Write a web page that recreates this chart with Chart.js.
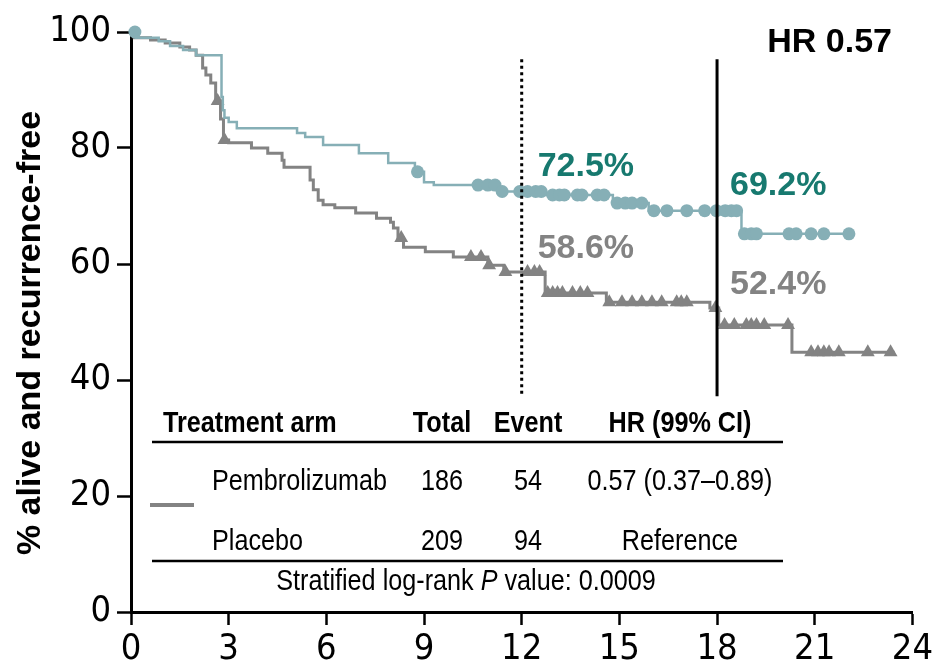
<!DOCTYPE html>
<html>
<head>
<meta charset="utf-8">
<script src="https://cdn.jsdelivr.net/npm/chart.js@4/dist/chart.umd.min.js"></script>
<style>
  html, body { margin: 0; padding: 0; background: #fff; }
  #wrap { width: 936px; height: 664px; }
</style>
</head>
<body>
<div id="wrap"><canvas id="km" width="936" height="664"></canvas></div>
<script>
// Axis ticks
const monthTicks = [0, 3, 6, 9, 12, 15, 18, 21, 24];
const pctTicks = [0, 20, 40, 60, 80, 100];

// Kaplan-Meier estimates: time (months) at which each step starts, and the % after the step
const pembroTimes = [0, 0.15, 0.85, 1.2, 1.6, 2.0, 2.78, 2.82, 2.87, 3.0, 3.25, 5.1, 5.35, 5.9, 7.0, 7.9, 8.72, 9.0, 9.3, 11.3, 12.65, 14.8, 15.9, 18.75];
const pembroSurv  = [100, 99.0, 98.4, 97.6, 96.9, 96.0, 88.8, 86.5, 85.2, 84.5, 83.4, 82.6, 81.9, 80.5, 79.1, 77.4, 75.9, 74.1, 73.6, 72.5, 71.9, 70.5, 69.2, 65.2];
const pembroEnd = 22.05;
const pembroCensor = [0.12, 8.8, 10.66, 10.96, 11.18, 11.4, 11.94, 12.18, 12.43, 12.6, 12.95, 13.16, 13.31, 13.71, 13.85, 14.32, 14.53, 14.93, 15.18, 15.39, 15.69, 16.06, 16.46, 17.07, 17.62, 17.98, 18.25, 18.44, 18.6, 18.84, 19.05, 19.21, 20.21, 20.43, 20.89, 21.28, 22.05];

const placeboTimes = [0, 0.1, 0.6, 1.05, 1.5, 1.8, 2.0, 2.2, 2.3, 2.45, 2.6, 2.75, 2.84, 3.0, 3.7, 4.2, 4.64, 4.7, 5.5, 5.6, 5.75, 5.9, 6.26, 6.9, 7.54, 7.97, 8.06, 8.2, 8.37, 9.04, 9.9, 10.96, 11.45, 12.72, 14.6, 17.78, 18.05, 20.3];
const placeboSurv  = [100, 99.0, 98.6, 98.1, 97.4, 96.9, 96.0, 93.8, 92.6, 91.2, 88.1, 85.0, 81.4, 80.9, 80.0, 79.1, 77.9, 76.7, 74.5, 72.8, 71.0, 70.2, 69.7, 68.8, 67.9, 67.2, 66.2, 64.5, 62.9, 62.1, 61.2, 59.8, 58.6, 55.0, 53.4, 52.4, 49.5, 44.8];
const placeboEnd = 23.45;
const placeboCensor = [2.66, 2.87, 8.3, 10.44, 10.75, 11.0, 11.5, 12.18, 12.39, 12.55, 12.8, 12.95, 13.1, 13.25, 13.56, 13.8, 14.02, 14.69, 15.08, 15.39, 15.69, 16.0, 16.3, 16.76, 16.9, 17.07, 17.95, 18.23, 18.53, 18.9, 19.05, 19.21, 19.45, 20.18, 20.89, 21.1, 21.28, 21.44, 21.74, 22.63, 23.33];

// Landmark estimates
const landmarkMonths = [12, 18];
const landmarkPembro = [72.5, 69.2];
const landmarkPlacebo = [58.6, 52.4];

// Summary table
const tableHeader = ['Treatment arm', 'Total', 'Event', 'HR (99% CI)'];
const armNames = ['Pembrolizumab', 'Placebo'];
const armTotals = [186, 209];
const armEvents = [54, 94];
const armHR = ['0.57 (0.37\u20130.89)', 'Reference'];
const hrLabel = 'HR 0.57';
const yTitle = '% alive and recurrence-free';

const TEAL = '#86afb6';
const TEAL_TEXT = '#17796f';
const GREY = '#838383';
const SANS = '"Liberation Sans", Arial, sans-serif';
const TICKS = '"DejaVu Sans Condensed", "Liberation Sans", sans-serif';
const CONDENSE = 0.84;   // horizontal squeeze for the table's narrow lettering

function survAt(times, surv, t) {
  let v = surv[0];
  for (let i = 0; i < times.length; i++) { if (times[i] <= t) v = surv[i]; }
  return v;
}
function curvePoints(times, surv, end) {
  const pts = times.map((t, i) => ({ x: t, y: surv[i] }));
  pts.push({ x: end, y: surv[surv.length - 1] });
  return pts;
}
function censorPoints(times, surv, marks) {
  return marks.map(t => ({ x: t, y: survAt(times, surv, t) }));
}

// narrow text: Liberation Sans squeezed horizontally
function narrowText(ctx, text, x, y, font, align) {
  ctx.save();
  ctx.font = font;
  const w = ctx.measureText(text).width * CONDENSE;
  let left = x;
  if (align === 'center') left = x - w / 2;
  else if (align === 'right') left = x - w;
  ctx.translate(left, y);
  ctx.scale(CONDENSE, 1);
  ctx.textAlign = 'left';
  ctx.fillText(text, 0, 0);
  ctx.restore();
  return w;
}

const overlay = {
  id: 'overlay',
  afterDraw(chart) {
    const ctx = chart.ctx;
    const xs = chart.scales.x, ys = chart.scales.y;
    ctx.save();

    // landmark reference lines
    ctx.strokeStyle = '#000';
    ctx.lineWidth = 3;
    landmarkMonths.forEach((m, i) => {
      const x = xs.getPixelForValue(m);
      ctx.setLineDash(i === 0 ? [3, 3.5] : []);
      ctx.beginPath();
      ctx.moveTo(x, ys.getPixelForValue(95.3));
      ctx.lineTo(x, ys.getPixelForValue(37.2));
      ctx.stroke();
    });
    ctx.setLineDash([]);

    // landmark percentages
    ctx.font = 'bold 34px ' + SANS;
    ctx.textAlign = 'left';
    ctx.textBaseline = 'alphabetic';
    landmarkMonths.forEach((m, i) => {
      const x = xs.getPixelForValue(m) + (i === 0 ? 16 : 13);
      ctx.fillStyle = TEAL_TEXT;
      ctx.fillText(landmarkPembro[i].toFixed(1) + '%', x, ys.getPixelForValue(landmarkPembro[i]) - 16);
      ctx.fillStyle = GREY;
      ctx.fillText(landmarkPlacebo[i].toFixed(1) + '%', x, ys.getPixelForValue(landmarkPlacebo[i]) - 14);
    });

    // hazard ratio
    ctx.fillStyle = '#000';
    ctx.font = 'bold 34px ' + SANS;
    ctx.textAlign = 'right';
    ctx.fillText(hrLabel, 892, 52);

    // y-axis title
    ctx.save();
    ctx.translate(31, 333);
    ctx.rotate(-Math.PI / 2);
    ctx.textAlign = 'center';
    ctx.textBaseline = 'middle';
    ctx.font = 'bold 34px ' + SANS;
    ctx.fillText(yTitle, 0, 0);
    ctx.restore();

    // summary table
    const colX = [163, 442, 528, 680];
    ctx.fillStyle = '#000';
    const headFont = 'bold 30px ' + SANS;
    narrowText(ctx, tableHeader[0], colX[0], 432, headFont, 'left');
    for (let c = 1; c < 4; c++) narrowText(ctx, tableHeader[c], colX[c], 432, headFont, 'center');

    ctx.strokeStyle = '#000';
    ctx.lineWidth = 2.5;
    ctx.beginPath();
    ctx.moveTo(152, 442); ctx.lineTo(783, 442);
    ctx.moveTo(152, 561); ctx.lineTo(783, 561);
    ctx.stroke();

    const rowY = [490, 550];
    const rowFont = '30px ' + SANS;
    armNames.forEach((name, r) => {
      narrowText(ctx, name, 212, rowY[r], rowFont, 'left');
      narrowText(ctx, String(armTotals[r]), colX[1], rowY[r], rowFont, 'center');
      narrowText(ctx, String(armEvents[r]), colX[2], rowY[r], rowFont, 'center');
      narrowText(ctx, armHR[r], colX[3], rowY[r], rowFont, 'center');
    });

    // placebo line key
    ctx.strokeStyle = GREY;
    ctx.lineWidth = 4;
    ctx.beginPath();
    ctx.moveTo(150, 505); ctx.lineTo(194, 505);
    ctx.stroke();

    // log-rank footnote
    const parts = [['Stratified log-rank ', ''], ['P', 'italic '], [' value: 0.0009', '']];
    let total = 0;
    parts.forEach(p => { ctx.font = p[1] + '30px ' + SANS; total += ctx.measureText(p[0]).width * CONDENSE; });
    let px = 466 - total / 2;
    parts.forEach(p => {
      px += narrowText(ctx, p[0], px, 590, p[1] + '30px ' + SANS, 'left');
    });

    ctx.restore();
  }
};

new Chart(document.getElementById('km'), {
  type: 'scatter',
  data: {
    datasets: [
      {
        label: 'Pembrolizumab censored',
        data: censorPoints(pembroTimes, pembroSurv, pembroCensor),
        pointStyle: 'circle', pointRadius: 6.5, pointBackgroundColor: TEAL, pointBorderWidth: 0,
        showLine: false, clip: false
      },
      {
        label: 'Pembrolizumab',
        data: curvePoints(pembroTimes, pembroSurv, pembroEnd),
        showLine: true, stepped: 'before', borderColor: TEAL, borderWidth: 2.5,
        pointRadius: 0, fill: false, clip: false
      },
      {
        label: 'Placebo censored',
        data: censorPoints(placeboTimes, placeboSurv, placeboCensor),
        pointStyle: 'triangle', pointRadius: 8, pointBackgroundColor: GREY, pointBorderWidth: 0,
        showLine: false, clip: false
      },
      {
        label: 'Placebo',
        data: curvePoints(placeboTimes, placeboSurv, placeboEnd),
        showLine: true, stepped: 'before', borderColor: GREY, borderWidth: 3,
        pointRadius: 0, fill: false, clip: false
      }
    ]
  },
  options: {
    responsive: false,
    animation: false,
    devicePixelRatio: 1,
    layout: { padding: { left: 0, right: 19, top: 32, bottom: 0 } },
    plugins: { legend: { display: false }, tooltip: { enabled: false } },
    scales: {
      x: {
        type: 'linear', min: 0, max: 24,
        afterBuildTicks: s => { s.ticks = monthTicks.map(v => ({ value: v })); },
        ticks: { font: { family: TICKS, size: 36 }, color: '#000', padding: 3, maxRotation: 0, autoSkip: false },
        grid: { drawOnChartArea: false, drawTicks: true, tickLength: 13, tickWidth: 2.5, tickColor: '#000' },
        border: { color: '#000', width: 3 },
        afterFit: s => { s.height = 52; }
      },
      y: {
        type: 'linear', min: 0, max: 100,
        afterBuildTicks: s => { s.ticks = pctTicks.map(v => ({ value: v })); },
        ticks: { font: { family: TICKS, size: 36 }, color: '#000', padding: 6, autoSkip: false },
        grid: { drawOnChartArea: false, drawTicks: true, tickLength: 14, tickWidth: 2.5, tickColor: '#000' },
        border: { color: '#000', width: 3 },
        afterFit: s => { s.width = 131; }
      }
    }
  },
  plugins: [overlay]
});
</script>
</body>
</html>
